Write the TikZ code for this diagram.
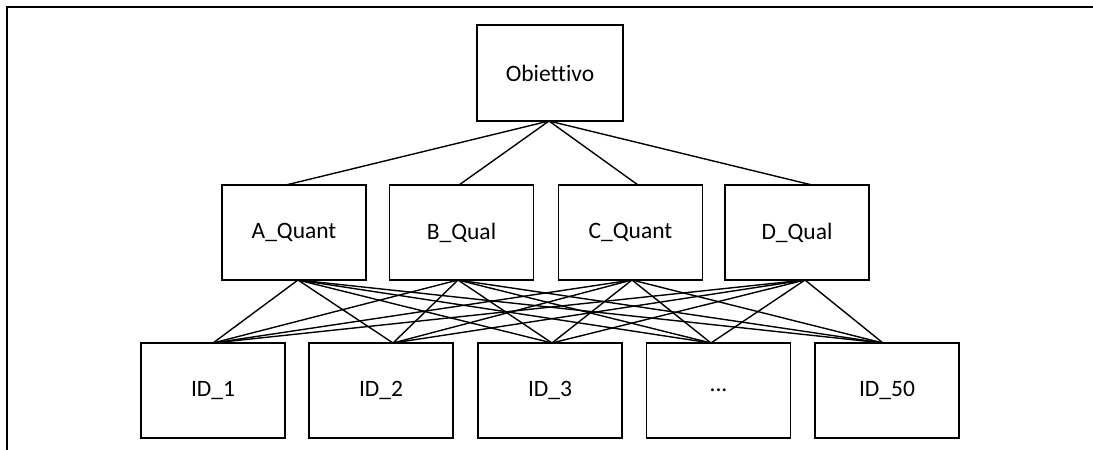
\documentclass[tikz,border=0pt]{standalone}
\usepackage{fontspec}
\setmainfont{Carlito}[Ligatures=NoCommon]
\begin{document}
\begin{tikzpicture}[x=1pt,y=-1pt,
  box/.style={draw, line width=1.8pt, minimum width=144pt, minimum height=95pt, inner sep=0pt, outer sep=0pt, font=\fontsize{23.5}{28}\selectfont},
  link/.style={line width=1.4pt}]
\useasboundingbox (0,0) rectangle (1093,450);
\draw[line width=2.6pt] (7,450) -- (7,7) -- (1093,7);
\node[box, minimum width=146pt, minimum height=96pt] (O) at (550,73) {Obiettivo};
\node[box] (A) at (294,232.5) {A\_Quant};
\node[box] (B) at (461.5,232.5) {B\_Qual};
\node[box] (C) at (630.5,232.5) {C\_Quant};
\node[box] (D) at (797,232.5) {D\_Qual};
\node[box] (I1) at (213,390.5) {ID\_1};
\node[box] (I2) at (381,390.5) {ID\_2};
\node[box] (I3) at (550,390.5) {ID\_3};
\node[box] (I4) at (718.5,390.5) {...};
\node[box] (I5) at (887,390.5) {ID\_50};
% connection points
\coordinate (Ob) at ([xshift=-1pt]O.south);
\coordinate (At) at ([xshift=-8pt]A.north);
\coordinate (Bt) at ([xshift=-2.5pt]B.north);
\coordinate (Ct) at ([xshift=7.5pt]C.north);
\coordinate (Dt) at ([xshift=15pt]D.north);
\coordinate (Ab) at ([xshift=4pt]A.south);
\coordinate (Bb) at ([xshift=-3.5pt]B.south);
\coordinate (Cb) at ([xshift=1.5pt]C.south);
\coordinate (Db) at ([xshift=8pt]D.south);
\coordinate (I1t) at (I1.north);
\coordinate (I2t) at ([xshift=12pt]I2.north);
\coordinate (I3t) at ([xshift=2pt]I3.north);
\coordinate (I4t) at ([xshift=-7.5pt]I4.north);
\coordinate (I5t) at ([xshift=-4pt]I5.north);
\foreach \m in {At,Bt,Ct,Dt} \draw[link] (Ob) -- (\m);
\foreach \m in {Ab,Bb,Cb,Db}
  \foreach \b in {I1t,I2t,I3t,I4t,I5t}
    \draw[link] (\m) -- (\b);
\end{tikzpicture}
\end{document}
